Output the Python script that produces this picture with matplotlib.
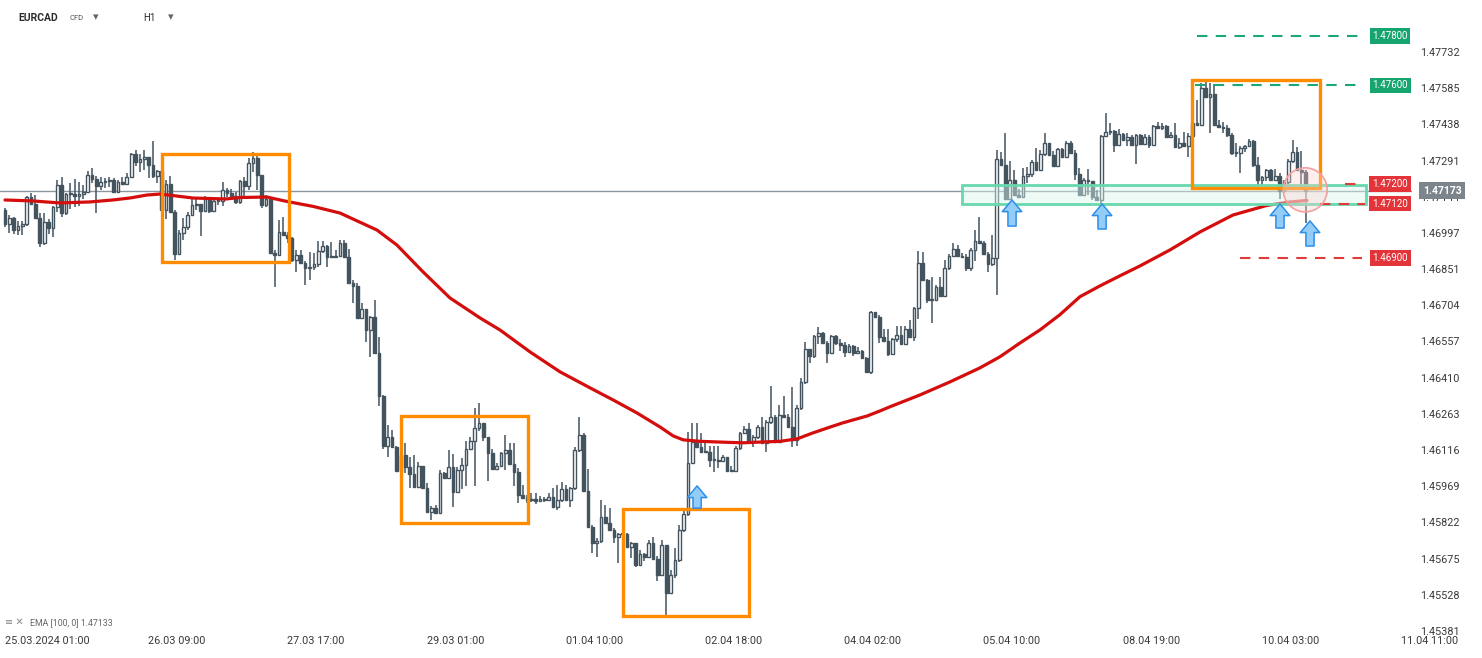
import numpy as np
import matplotlib.pyplot as plt
import matplotlib.transforms as mtransforms
from matplotlib.patches import Rectangle, Ellipse

plt.rcParams['font.family'] = ['Roboto', 'DejaVu Sans']

# ======================
# DATA  (EURCAD, H1 candles)
# ======================
first_open = 1.47094

closes = [
    1.47038, 1.47062, 1.47013, 1.47029, 1.47038, 1.47147, 1.47119, 1.47062, 1.46960, 1.47046,
    1.47021, 1.47107, 1.47196, 1.47082, 1.47159, 1.47159, 1.47151, 1.47159, 1.47168, 1.47237,
    1.47220, 1.47192, 1.47208, 1.47212, 1.47216, 1.47168, 1.47208, 1.47200, 1.47228, 1.47322,
    1.47289, 1.47302, 1.47310, 1.47277, 1.47232, 1.47253, 1.47094, 1.47200, 1.47086, 1.46916,
    1.47001, 1.47025, 1.47074, 1.47115, 1.47119, 1.47090, 1.47139, 1.47090, 1.47131, 1.47131,
    1.47176, 1.47163, 1.47151, 1.47127, 1.47212, 1.47192, 1.47285, 1.47306, 1.47237, 1.47115,
    1.47139, 1.46920, 1.46912, 1.47005, 1.46993, 1.46981, 1.46891, 1.46912, 1.46879, 1.46859,
    1.46863, 1.46875, 1.46928, 1.46948, 1.46904, 1.46904, 1.46908, 1.46960, 1.46904, 1.46798,
    1.46786, 1.46656, 1.46692, 1.46607, 1.46660, 1.46514, 1.46339, 1.46136, 1.46173, 1.46132,
    1.46035, 1.46100, 1.46051, 1.46023, 1.45970, 1.46055, 1.45966, 1.45868, 1.45884, 1.45864,
    1.46027, 1.46006, 1.46051, 1.45949, 1.46039, 1.46059, 1.46124, 1.46156, 1.46209, 1.46230,
    1.46173, 1.46108, 1.46043, 1.46055, 1.46108, 1.46120, 1.46063, 1.46031, 1.45937, 1.45925,
    1.45917, 1.45921, 1.45913, 1.45921, 1.45917, 1.45929, 1.45889, 1.45917, 1.45962, 1.45917,
    1.45966, 1.46120, 1.46181, 1.45954, 1.45807, 1.45742, 1.45751, 1.45848, 1.45824, 1.45795,
    1.45766, 1.45779, 1.45779, 1.45726, 1.45742, 1.45653, 1.45698, 1.45686, 1.45742, 1.45677,
    1.45612, 1.45734, 1.45539, 1.45612, 1.45673, 1.45795, 1.45860, 1.46067, 1.46153, 1.46132,
    1.46112, 1.46112, 1.46079, 1.46079, 1.46075, 1.46092, 1.46035, 1.46035, 1.46128, 1.46189,
    1.46205, 1.46156, 1.46173, 1.46213, 1.46148, 1.46234, 1.46254, 1.46153, 1.46262, 1.46254,
    1.46213, 1.46161, 1.46290, 1.46396, 1.46530, 1.46502, 1.46583, 1.46595, 1.46554, 1.46514,
    1.46583, 1.46554, 1.46546, 1.46518, 1.46542, 1.46514, 1.46522, 1.46494, 1.46437, 1.46680,
    1.46660, 1.46579, 1.46563, 1.46510, 1.46571, 1.46587, 1.46550, 1.46611, 1.46579, 1.46696,
    1.46879, 1.46810, 1.46729, 1.46729, 1.46782, 1.46745, 1.46859, 1.46908, 1.46936, 1.46908,
    1.46904, 1.46859, 1.46932, 1.46969, 1.46960, 1.46916, 1.46875, 1.46900, 1.47302, 1.47277,
    1.47139, 1.47216, 1.47155, 1.47147, 1.47232, 1.47241, 1.47289, 1.47257, 1.47322, 1.47366,
    1.47318, 1.47273, 1.47342, 1.47310, 1.47366, 1.47326, 1.47241, 1.47155, 1.47216, 1.47212,
    1.47147, 1.47135, 1.47395, 1.47411, 1.47415, 1.47358, 1.47403, 1.47379, 1.47391, 1.47358,
    1.47399, 1.47362, 1.47391, 1.47358, 1.47435, 1.47427, 1.47435, 1.47391, 1.47399, 1.47350,
    1.47366, 1.47354, 1.47395, 1.47448, 1.47439, 1.47590, 1.47553, 1.47565, 1.47439, 1.47431,
    1.47427, 1.47399, 1.47326, 1.47326, 1.47346, 1.47354, 1.47375, 1.47277, 1.47216, 1.47228,
    1.47257, 1.47216, 1.47232, 1.47172, 1.47208, 1.47293, 1.47330, 1.47257, 1.47249, 1.47173,
]

highs = [
    1.47103, 1.47074, 1.47066, 1.47050, 1.47050, 1.47151, 1.47163, 1.47155, 1.47082, 1.47082,
    1.47058, 1.47111, 1.47216, 1.47228, 1.47163, 1.47204, 1.47220, 1.47208, 1.47196, 1.47253,
    1.47265, 1.47232, 1.47228, 1.47224, 1.47228, 1.47224, 1.47216, 1.47228, 1.47245, 1.47326,
    1.47338, 1.47322, 1.47338, 1.47310, 1.47375, 1.47257, 1.47257, 1.47216, 1.47232, 1.47094,
    1.47013, 1.47062, 1.47086, 1.47147, 1.47147, 1.47119, 1.47151, 1.47143, 1.47135, 1.47143,
    1.47208, 1.47184, 1.47180, 1.47168, 1.47216, 1.47228, 1.47306, 1.47330, 1.47318, 1.47237,
    1.47155, 1.47143, 1.46932, 1.47054, 1.47066, 1.47005, 1.46985, 1.46932, 1.46932, 1.46887,
    1.46924, 1.46920, 1.46969, 1.46969, 1.46952, 1.46964, 1.46932, 1.46973, 1.46973, 1.46936,
    1.46810, 1.46798, 1.46717, 1.46692, 1.46664, 1.46729, 1.46579, 1.46343, 1.46222, 1.46201,
    1.46136, 1.46112, 1.46148, 1.46092, 1.46100, 1.46071, 1.46055, 1.45986, 1.45893, 1.45897,
    1.46039, 1.46031, 1.46120, 1.46104, 1.46051, 1.46088, 1.46156, 1.46173, 1.46290, 1.46311,
    1.46230, 1.46161, 1.46124, 1.46067, 1.46112, 1.46181, 1.46148, 1.46148, 1.46047, 1.45978,
    1.45937, 1.45945, 1.45945, 1.45933, 1.45929, 1.45945, 1.45966, 1.45978, 1.45990, 1.45978,
    1.45970, 1.46132, 1.46254, 1.46189, 1.46043, 1.45816, 1.45763, 1.45917, 1.45897, 1.45884,
    1.45803, 1.45783, 1.45795, 1.45783, 1.45746, 1.45738, 1.45714, 1.45702, 1.45755, 1.45766,
    1.45691, 1.45755, 1.45722, 1.45633, 1.45722, 1.45816, 1.45876, 1.46193, 1.46230, 1.46230,
    1.46189, 1.46148, 1.46136, 1.46136, 1.46136, 1.46100, 1.46092, 1.46055, 1.46136, 1.46193,
    1.46217, 1.46230, 1.46181, 1.46222, 1.46254, 1.46242, 1.46380, 1.46262, 1.46303, 1.46339,
    1.46266, 1.46376, 1.46303, 1.46412, 1.46558, 1.46530, 1.46587, 1.46619, 1.46599, 1.46563,
    1.46587, 1.46587, 1.46571, 1.46558, 1.46550, 1.46546, 1.46538, 1.46526, 1.46498, 1.46684,
    1.46680, 1.46668, 1.46611, 1.46611, 1.46575, 1.46623, 1.46623, 1.46623, 1.46648, 1.46701,
    1.46928, 1.46924, 1.46814, 1.46822, 1.46790, 1.46822, 1.46891, 1.46916, 1.46960, 1.46952,
    1.46920, 1.46916, 1.46940, 1.47013, 1.47066, 1.46969, 1.46924, 1.46993, 1.47338, 1.47330,
    1.47407, 1.47293, 1.47257, 1.47180, 1.47265, 1.47269, 1.47297, 1.47346, 1.47338, 1.47407,
    1.47366, 1.47334, 1.47346, 1.47346, 1.47375, 1.47375, 1.47338, 1.47265, 1.47224, 1.47261,
    1.47184, 1.47176, 1.47399, 1.47488, 1.47448, 1.47419, 1.47423, 1.47407, 1.47407, 1.47399,
    1.47403, 1.47403, 1.47403, 1.47399, 1.47439, 1.47452, 1.47448, 1.47439, 1.47411, 1.47448,
    1.47387, 1.47411, 1.47407, 1.47480, 1.47541, 1.47610, 1.47614, 1.47610, 1.47606, 1.47460,
    1.47452, 1.47439, 1.47407, 1.47366, 1.47354, 1.47358, 1.47383, 1.47379, 1.47310, 1.47232,
    1.47261, 1.47261, 1.47261, 1.47245, 1.47216, 1.47302, 1.47379, 1.47350, 1.47334, 1.47257,
]

lows = [
    1.47025, 1.47001, 1.46997, 1.46993, 1.46993, 1.47029, 1.47115, 1.47058, 1.46944, 1.46952,
    1.46997, 1.46985, 1.47086, 1.47066, 1.47074, 1.47099, 1.47107, 1.47111, 1.47139, 1.47163,
    1.47204, 1.47082, 1.47176, 1.47184, 1.47188, 1.47163, 1.47163, 1.47196, 1.47196, 1.47224,
    1.47273, 1.47249, 1.47257, 1.47224, 1.47224, 1.47204, 1.47086, 1.47058, 1.47082, 1.46891,
    1.46916, 1.46973, 1.47013, 1.47070, 1.47094, 1.46989, 1.47086, 1.47082, 1.47090, 1.47115,
    1.47111, 1.47147, 1.47147, 1.47119, 1.47119, 1.47143, 1.47176, 1.47249, 1.47176, 1.47103,
    1.47107, 1.46916, 1.46782, 1.46908, 1.46989, 1.46960, 1.46883, 1.46843, 1.46875, 1.46790,
    1.46810, 1.46851, 1.46863, 1.46920, 1.46863, 1.46900, 1.46900, 1.46916, 1.46900, 1.46794,
    1.46717, 1.46652, 1.46656, 1.46558, 1.46498, 1.46510, 1.46299, 1.46124, 1.46092, 1.46128,
    1.46031, 1.46031, 1.46027, 1.45966, 1.45966, 1.45966, 1.45962, 1.45864, 1.45836, 1.45860,
    1.45864, 1.46002, 1.46002, 1.45889, 1.45949, 1.45962, 1.45974, 1.46120, 1.45974, 1.46197,
    1.46156, 1.45994, 1.46039, 1.46039, 1.46051, 1.46039, 1.46059, 1.45974, 1.45905, 1.45921,
    1.45905, 1.45909, 1.45901, 1.45909, 1.45909, 1.45913, 1.45884, 1.45876, 1.45909, 1.45913,
    1.45889, 1.45958, 1.46112, 1.45949, 1.45803, 1.45702, 1.45686, 1.45742, 1.45820, 1.45791,
    1.45742, 1.45661, 1.45755, 1.45722, 1.45681, 1.45645, 1.45649, 1.45669, 1.45686, 1.45673,
    1.45588, 1.45617, 1.45450, 1.45539, 1.45601, 1.45665, 1.45787, 1.45852, 1.46071, 1.46128,
    1.46108, 1.46108, 1.46051, 1.46031, 1.46047, 1.46071, 1.46031, 1.46031, 1.46039, 1.46120,
    1.46185, 1.46152, 1.46132, 1.46165, 1.46144, 1.46112, 1.46226, 1.46148, 1.46148, 1.46250,
    1.46209, 1.46132, 1.46136, 1.46282, 1.46388, 1.46473, 1.46494, 1.46550, 1.46550, 1.46473,
    1.46510, 1.46546, 1.46522, 1.46498, 1.46518, 1.46502, 1.46510, 1.46490, 1.46433, 1.46429,
    1.46656, 1.46554, 1.46558, 1.46502, 1.46522, 1.46558, 1.46546, 1.46546, 1.46575, 1.46563,
    1.46652, 1.46806, 1.46717, 1.46636, 1.46725, 1.46741, 1.46741, 1.46851, 1.46904, 1.46904,
    1.46900, 1.46847, 1.46847, 1.46887, 1.46956, 1.46912, 1.46843, 1.46867, 1.46750, 1.47273,
    1.47135, 1.47135, 1.47151, 1.47143, 1.47147, 1.47204, 1.47228, 1.47253, 1.47260, 1.47314,
    1.47314, 1.47269, 1.47269, 1.47306, 1.47314, 1.47322, 1.47216, 1.47151, 1.47155, 1.47155,
    1.47135, 1.47131, 1.47107, 1.47391, 1.47399, 1.47330, 1.47354, 1.47375, 1.47354, 1.47354,
    1.47281, 1.47358, 1.47358, 1.47346, 1.47358, 1.47423, 1.47419, 1.47387, 1.47387, 1.47346,
    1.47342, 1.47350, 1.47310, 1.47391, 1.47435, 1.47439, 1.47549, 1.47407, 1.47435, 1.47427,
    1.47407, 1.47391, 1.47318, 1.47310, 1.47245, 1.47330, 1.47350, 1.47269, 1.47196, 1.47196,
    1.47212, 1.47212, 1.47228, 1.47139, 1.47163, 1.47176, 1.47285, 1.47253, 1.47184, 1.47042,
]

# EMA(100) at some bars
ema_bars = [0, 6.4, 12.6, 19.5, 24.8, 28.7, 32.6, 35.6, 39.5, 43.2, 50.8, 54, 60.2, 64.8,
            70.8, 77, 85.5, 90.1, 96.1, 102.3, 109.2, 113.8, 120.7, 127.6, 134.5, 139.8,
            145.3, 150.6, 153.6, 155.9, 159.8, 166, 169.7, 173.6, 178.2, 182.1, 185.7,
            189.7, 192.6, 198.2, 201.1, 203.4, 210.3, 217.2, 224.1, 228.7, 233.3, 237.9,
            242.5, 247.1, 251.7, 256.3, 260.9, 267.8, 274.7, 282.3, 290.1, 295.4, 299.3]
ema_vals = [1.47135, 1.47131, 1.47123, 1.47127, 1.47135, 1.47143, 1.47155, 1.47159, 1.47151,
            1.47143, 1.47139, 1.47145, 1.47147, 1.47129, 1.47109, 1.47082, 1.47013, 1.46952,
            1.46843, 1.46737, 1.46656, 1.46607, 1.46518, 1.46437, 1.46372, 1.46323, 1.46270,
            1.46213, 1.46177, 1.46161, 1.46155, 1.46151, 1.46149, 1.46152, 1.46155, 1.46165,
            1.46189, 1.46213, 1.46230, 1.46258, 1.46278, 1.46295, 1.46343, 1.46396, 1.46453,
            1.46498, 1.46554, 1.46607, 1.46669, 1.46742, 1.46786, 1.46827, 1.46867, 1.46932,
            1.47005, 1.47074, 1.47113, 1.47127, 1.47133]

ema_label = "EMA [100, 0] 1.47133"
last_price = 1.47173

# price levels drawn on the chart
green_levels = [1.47800, 1.47600]
red_levels = [1.47200, 1.47120, 1.46900]

# y axis labels
y_labels = ['1.47732', '1.47585', '1.47438', '1.47291', '1.47144', '1.46997', '1.46851',
            '1.46704', '1.46557', '1.46410', '1.46263', '1.46116', '1.45969', '1.45822',
            '1.45675', '1.45528', '1.45381']

# x axis labels (every 32 bars)
date_labels = ['26.03 09:00', '27.03 17:00', '29.03 01:00', '01.04 10:00', '02.04 18:00',
               '04.04 02:00', '05.04 10:00', '08.04 19:00', '10.04 03:00', '11.04 11:00']

# ======================
# FIGURE
# ======================
W, H = 1482, 658
fig = plt.figure(figsize=(W / 100, H / 100), dpi=100)
fig.patch.set_facecolor('white')

plot_right, plot_bottom = 1412, 628
ax = fig.add_axes([0, (H - plot_bottom) / H, plot_right / W, plot_bottom / H])
ax.set_xlim(-1.15, 323.45)
ax.set_ylim(1.45397, 1.47947)
ax.set_xticks([])
ax.set_yticks([])
for s in ax.spines.values():
    s.set_visible(False)

dark = '#44545f'

# ======================
# CANDLES
# ======================
c = np.array(closes)
o = np.concatenate([[first_open], c[:-1]])
hi = np.maximum(np.array(highs), np.maximum(o, c))
lo = np.minimum(np.array(lows), np.minimum(o, c))
x = np.arange(len(c))
up = c >= o
body_lo = np.minimum(o, c)
body_h = np.maximum(np.abs(c - o), 0.00003)

ax.vlines(x, lo, hi, color=dark, lw=1.1, zorder=3)
ax.bar(x[up], body_h[up], bottom=body_lo[up], width=0.62,
       color='white', edgecolor=dark, linewidth=1.0, zorder=4)
ax.bar(x[~up], body_h[~up], bottom=body_lo[~up], width=0.62,
       color=dark, edgecolor=dark, linewidth=1.0, zorder=4)

# current price line
ax.axhline(last_price, color='#8b959c', lw=1, zorder=2)

# EMA
ax.plot(ema_bars, ema_vals, color='#d40d0d', lw=2.3, zorder=5, solid_capstyle='round')

# ======================
# ANNOTATIONS
# ======================
boxes = [(36.1, 65.3, 1.46883, 1.47322), (91.0, 120.2, 1.45824, 1.46258),
         (142.1, 171.0, 1.45446, 1.45880), (272.9, 302.3, 1.47184, 1.47622)]
for x0, x1, y0, y1 in boxes:
    ax.add_patch(Rectangle((x0, y0), x1 - x0, y1 - y0, fill=False,
                           edgecolor='#ff8c00', lw=2.4, zorder=6))

# support band
ax.add_patch(Rectangle((220.0, red_levels[1] - 0.00003), 92.9, 0.00078,
                       facecolor=(0.85, 0.96, 0.92, 0.45), edgecolor='#68d8ae',
                       lw=2, zorder=5))

# dashed levels
ax.hlines(green_levels[0], 274.0, 311.5, colors='#1aa874', lw=1.5, linestyles=(0, (5, 4)), zorder=6)
ax.hlines(green_levels[1], 273.5, 311.5, colors='#1aa874', lw=1.5, linestyles=(0, (5, 4)), zorder=6)
ax.hlines(red_levels[0], 308.0, 312.0, colors='#e03a3a', lw=1.5, linestyles=(0, (5, 4)), zorder=6)
ax.hlines(red_levels[1], 302.3, 312.6, colors='#e03a3a', lw=1.5, linestyles=(0, (5, 4)), zorder=6)
ax.hlines(red_levels[2], 284.0, 312.0, colors='#e03a3a', lw=1.5, linestyles=(0, (5, 4)), zorder=6)

for lv in green_levels:
    ax.text(318.4, lv, f'{lv:.5f}', ha='center', va='center', color='white', fontsize=7,
            zorder=8, bbox=dict(boxstyle='square,pad=0.28', fc='#16a56f', ec='none'))
for lv in red_levels:
    ax.text(318.4, lv, f'{lv:.5f}', ha='center', va='center', color='white', fontsize=7,
            zorder=8, bbox=dict(boxstyle='square,pad=0.28', fc='#e3343a', ec='none'))

# blue arrows
arrows = [(159.1, 1.45884, 1.45974), (231.5, 1.47029, 1.47135), (252.2, 1.47017, 1.47119),
          (293.1, 1.47021, 1.47119), (300.0, 1.46948, 1.47050)]
for ax_x, y0, y1 in arrows:
    ax.annotate('', xy=(ax_x, y1), xytext=(ax_x, y0),
                arrowprops=dict(arrowstyle='simple,head_length=0.6,head_width=1.0,tail_width=0.42',
                                fc='#93cdf7', ec='#2d8fe8', lw=1.1, mutation_scale=14,
                                shrinkA=0, shrinkB=0), zorder=9)

# highlight circle
ax.add_patch(Ellipse((298.9, 1.47176), 10.1, 0.00179, facecolor=(1, 0.82, 0.82, 0.35),
                     edgecolor='#f2a0a0', lw=1.2, zorder=7))

# ======================
# AXIS TEXT
# ======================
txt = '#3a3a3a'
for lab in y_labels:
    ax.text(1420 / plot_right, float(lab), lab, transform=mtransforms.blended_transform_factory(ax.transAxes, ax.transData),
            ha='left', va='center', fontsize=7.8, color=txt, clip_on=False, zorder=1)

ax.text(1442 / plot_right, last_price, f'{last_price:.5f}',
        transform=mtransforms.blended_transform_factory(ax.transAxes, ax.transData),
        ha='center', va='center', fontsize=7.5, color='white', fontweight='bold', clip_on=False,
        zorder=10, bbox=dict(boxstyle='square,pad=0.35', fc='#7d858c', ec='none'))

xt = mtransforms.blended_transform_factory(ax.transData, ax.transAxes)
yb = -13 / plot_bottom
ax.text(0, yb, '25.03.2024 01:00', transform=xt, ha='left', va='center',
        fontsize=7.8, color=txt, clip_on=False)
for k, lab in enumerate(date_labels):
    ax.text(39.5 + 32 * k, yb, lab, transform=xt, ha='center', va='center',
            fontsize=7.8, color=txt, clip_on=False)

# header
fig.text(18 / W, 1 - 18 / H, 'EURCAD', fontsize=7.5, fontweight='bold', color='#2b2b2b', va='center')
fig.text(70 / W, 1 - 18 / H, 'CFD', fontsize=5.5, color='#555555', va='center')
fig.text(93 / W, 1 - 17 / H, '▾', fontsize=8, color='#666666', va='center')
fig.text(143 / W, 1 - 18 / H, 'H1', fontsize=7, color='#2b2b2b', va='center')
fig.text(168 / W, 1 - 17 / H, '▾', fontsize=8, color='#666666', va='center')

# indicator legend
fig.text(5 / W, 1 - 622 / H, '≡ ✕', fontsize=7, color='#888888', va='center')
fig.text(30 / W, 1 - 623 / H, ema_label, fontsize=6.3, color='#666666', va='center')

plt.savefig('out.png', dpi=100)
